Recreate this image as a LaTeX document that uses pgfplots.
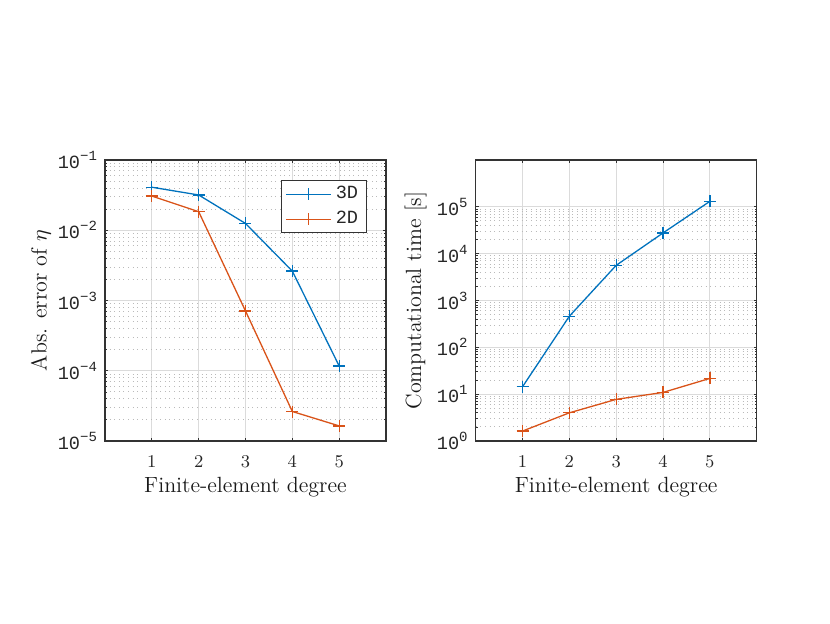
\documentclass[border=0pt]{standalone}
\usepackage{fontspec}
\setmonofont{Liberation Mono}
\usepackage{pgfplots}
\pgfplotsset{compat=1.18}
\definecolor{mblue}{rgb}{0,0.447,0.741}
\definecolor{morange}{rgb}{0.85,0.325,0.098}
\newcommand{\tl}[1]{10\raisebox{0.8ex}{\fontsize{7}{8}\selectfont #1}}
\begin{document}
\begin{tikzpicture}
\useasboundingbox (0,0) rectangle (415pt,311.5pt);
\begin{axis}[
  scale only axis, width=140.5pt, height=140.5pt,
  anchor=south west, at={(52.5pt,91pt)},
  ymode=log, xmin=0, xmax=6, xtick={1,2,3,4,5},
  xmajorgrids, ymajorgrids, yminorgrids,
  major grid style={black!14, line width=0.5pt},
  minor grid style={black!27, dash pattern=on 0.5pt off 1.8pt, line width=0.45pt},
  axis line style={black!80, line width=0.6pt},
  tick style={black!80, line width=0.4pt},
  tick align=inside,
  major tick length=1.6pt, minor tick length=1pt,
  tick label style={font=\ttfamily\fontsize{9.3}{10}\selectfont, text=black!85},
  xticklabel style={yshift=-4pt},
  yticklabel style={xshift=-0.5pt},
  label style={font=\fontsize{11}{13}\selectfont, text=black!90},
  xlabel={Finite-element degree},
  xlabel style={at={(axis description cs:0.5,-0.1626)}, anchor=center},
  ymin=1e-5, ymax=1e-1,
  ytick={1e-5,1e-4,1e-3,1e-2,1e-1},
  yticklabels={\tl{−5},\tl{−4},\tl{−3},\tl{−2},\tl{−1}},
  ylabel={Abs. error of $\eta$},
  ylabel style={at={(axis description cs:-0.2278,0.5)}, anchor=center},
  legend style={at={(axis description cs:0.931,0.929)}, anchor=north east,
    draw=black!80, fill=white, line width=0.5pt,
    font=\ttfamily\fontsize{9.3}{10}\selectfont, text=black!85,
    row sep=0.8pt, inner xsep=2pt, inner ysep=1pt},
]
\addplot[mblue, line width=0.65pt, mark=+, mark size=3pt,
  legend image code/.code={\draw[mblue, line width=0.65pt, mark=+, mark size=3pt, mark repeat=2,mark phase=2] plot coordinates {(0pt,0pt) (11.25pt,0pt) (22.5pt,0pt)};}]
  coordinates {(1,0.041) (2,0.0318) (3,0.0125) (4,0.00262) (5,1.17e-4)};
\addlegendentry{3D}
\addplot[morange, line width=0.65pt, mark=+, mark size=3pt,
  legend image code/.code={\draw[morange, line width=0.65pt, mark=+, mark size=3pt, mark repeat=2,mark phase=2] plot coordinates {(0pt,0pt) (11.25pt,0pt) (22.5pt,0pt)};}]
  coordinates {(1,0.0307) (2,0.0184) (3,7.1e-4) (4,2.63e-5) (5,1.64e-5)};
\addlegendentry{2D}
\end{axis}
\begin{axis}[
  scale only axis, width=140.5pt, height=140.5pt,
  anchor=south west, at={(237.85pt,91pt)},
  ymode=log, xmin=0, xmax=6, xtick={1,2,3,4,5},
  xmajorgrids, ymajorgrids, yminorgrids,
  major grid style={black!14, line width=0.5pt},
  minor grid style={black!27, dash pattern=on 0.5pt off 1.8pt, line width=0.45pt},
  axis line style={black!80, line width=0.6pt},
  tick style={black!80, line width=0.4pt},
  tick align=inside,
  major tick length=1.6pt, minor tick length=1pt,
  tick label style={font=\ttfamily\fontsize{9.3}{10}\selectfont, text=black!85},
  xticklabel style={yshift=-4pt},
  yticklabel style={xshift=-0.5pt},
  label style={font=\fontsize{11}{13}\selectfont, text=black!90},
  xlabel={Finite-element degree},
  xlabel style={at={(axis description cs:0.5,-0.1626)}, anchor=center},
  ymin=1, ymax=1e6,
  ytick={1,10,100,1000,10000,100000},
  yticklabels={\tl{0},\tl{1},\tl{2},\tl{3},\tl{4},\tl{5}},
  ylabel={Computational time [s]},
  ylabel style={at={(axis description cs:-0.2135,0.5)}, anchor=center},
]
\addplot[mblue, line width=0.65pt, mark=+, mark size=3pt] coordinates {(1,14.4) (2,462) (3,5640) (4,27700) (5,131000)};
\addplot[morange, line width=0.65pt, mark=+, mark size=3pt] coordinates {(1,1.63) (2,4.0) (3,7.75) (4,10.9) (5,21.7)};
\end{axis}
\end{tikzpicture}
\end{document}
